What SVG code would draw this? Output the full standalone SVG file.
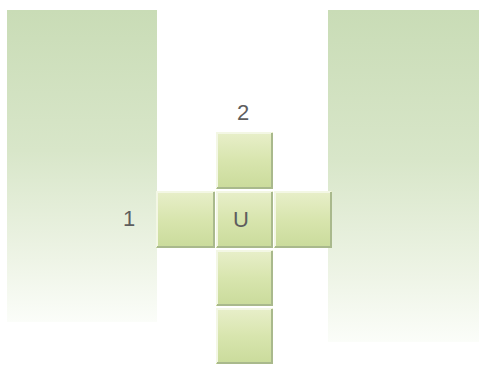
<svg xmlns="http://www.w3.org/2000/svg" width="479" height="368" viewBox="0 0 479 368">
<defs>
<linearGradient id="panel" x1="0" y1="0" x2="0" y2="1">
<stop offset="0" stop-color="#c9dcb6"/>
<stop offset="0.45" stop-color="#d8e6c9"/>
<stop offset="0.8" stop-color="#eef4e6"/>
<stop offset="1" stop-color="#fbfdf9"/>
</linearGradient>
<linearGradient id="sq" x1="0" y1="0" x2="0" y2="1">
<stop offset="0" stop-color="#e8efca"/>
<stop offset="0.5" stop-color="#d8e5ae"/>
<stop offset="1" stop-color="#cadb9b"/>
</linearGradient>
<style>
.cell rect.f{fill:url(#sq);}
.cell .hi{fill:none;stroke:#f3f7e4;stroke-width:2;}
.cell .lo{fill:none;stroke:#a9b98c;stroke-width:2;}
.lbl{font-family:"Liberation Sans",Arial,sans-serif;font-size:22px;fill:#5e5e5e;text-anchor:middle;}
</style>
</defs>
<rect width="479" height="368" fill="#ffffff"/>
<g id="panel-left"><rect x="7" y="10" width="150" height="312" fill="url(#panel)"/></g>
<g id="panel-right"><rect x="328" y="10" width="151" height="332" fill="url(#panel)"/></g>
<g id="connectors"></g>
<g id="cell-top" class="cell">
<rect class="f" x="216" y="132" width="57" height="57"/>
<path class="hi" d="M217 188 V133 H272"/>
<path class="lo" d="M272 133 V188 H217"/>
</g>
<g id="cell-left" class="cell">
<rect class="f" x="156" y="191" width="59" height="57"/>
<path class="hi" d="M157 247 V192 H214"/>
<path class="lo" d="M214 192 V247 H157"/>
</g>
<g id="cell-U" class="cell">
<rect class="f" x="216" y="191" width="57" height="57"/>
<path class="hi" d="M217 247 V192 H272"/>
<path class="lo" d="M272 192 V247 H217"/>
</g>
<g id="cell-right" class="cell">
<rect class="f" x="274" y="191" width="58" height="57"/>
<path class="hi" d="M275 247 V192 H331"/>
<path class="lo" d="M331 192 V247 H275"/>
</g>
<g id="cell-b1" class="cell">
<rect class="f" x="216" y="250" width="57" height="56"/>
<path class="hi" d="M217 305 V251 H272"/>
<path class="lo" d="M272 251 V305 H217"/>
</g>
<g id="cell-b2" class="cell">
<rect class="f" x="216" y="308" width="57" height="56"/>
<path class="hi" d="M217 363 V309 H272"/>
<path class="lo" d="M272 309 V363 H217"/>
</g>
<text class="lbl" x="243" y="120">2</text>
<text class="lbl" x="129" y="226">1</text>
<text class="lbl" x="241" y="227">U</text>
</svg>
